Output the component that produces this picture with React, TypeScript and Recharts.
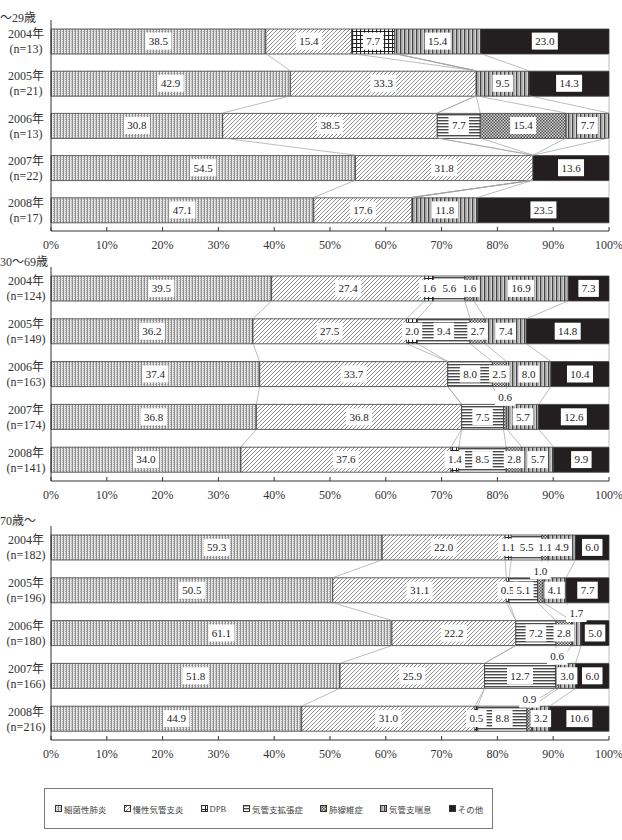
import React from 'react';
import { BarChart, Bar, XAxis, YAxis, ReferenceLine, ReferenceDot } from 'recharts';

const SERIF = "'Liberation Serif', 'Noto Sans CJK JP', serif";

const diseases = ['細菌性肺炎', '慢性気管支炎', 'DPB', '気管支拡張症', '肺線維症', '気管支喘息', 'その他'];
const years = ['2004年', '2005年', '2006年', '2007年', '2008年'];
const xTicks = [0, 0.1, 0.2, 0.3, 0.4, 0.5, 0.6, 0.7, 0.8, 0.9, 1];

// ～29歳: one row per year, columns follow `diseases`
const youngN = [13, 21, 13, 22, 17];
const youngRates = [
  [38.5, 15.4, 7.7, 0, 0, 15.4, 23.0],
  [42.9, 33.3, 0, 0, 0, 9.5, 14.3],
  [30.8, 38.5, 0, 7.7, 15.4, 7.7, 0],
  [54.5, 31.8, 0, 0, 0, 0, 13.6],
  [47.1, 17.6, 0, 0, 0, 11.8, 23.5],
];

// 30～69歳
const middleN = [124, 149, 163, 174, 141];
const middleRates = [
  [39.5, 27.4, 1.6, 5.6, 1.6, 16.9, 7.3],
  [36.2, 27.5, 2.0, 9.4, 2.7, 7.4, 14.8],
  [37.4, 33.7, 0, 8.0, 2.5, 8.0, 10.4],
  [36.8, 36.8, 0, 7.5, 0.6, 5.7, 12.6],
  [34.0, 37.6, 1.4, 8.5, 2.8, 5.7, 9.9],
];

// 70歳～
const elderN = [182, 196, 180, 166, 216];
const elderRates = [
  [59.3, 22.0, 1.1, 5.5, 1.1, 4.9, 6.0],
  [50.5, 31.1, 0.5, 5.1, 1.0, 4.1, 7.7],
  [61.1, 22.2, 0, 7.2, 2.8, 1.7, 5.0],
  [51.8, 25.9, 0, 12.7, 0.6, 3.0, 6.0],
  [44.9, 31.0, 0.5, 8.8, 0.9, 3.2, 10.6],
];

// [year row, disease column] of small values whose label sits above the bar
const middleLifted = [[3, 4]];
const elderLifted = [[1, 4], [2, 5], [3, 4], [4, 4]];

const BAR = 25;
const fills = diseases.map((_, k) => (k === 6 ? '#231f20' : `url(#pat${k})`));

function Patterns() {
  return (
    <svg width={0} height={0} style={{ position: 'absolute' }}>
      <defs>
        <pattern id="pat0" width={3} height={2} patternUnits="userSpaceOnUse">
          <rect width={3} height={2} fill="#e6e6e6" />
          <rect x={0} width={1} height={2} fill="#8f8f8f" />
          <rect x={2} width={1} height={1} fill="#ababab" />
        </pattern>
        <pattern id="pat1" width={4} height={4} patternUnits="userSpaceOnUse">
          <rect width={4} height={4} fill="#fff" />
          <path d="M-1,1 l2,-2 M0,4 l4,-4 M3,5 l2,-2" stroke="#707070" strokeWidth={0.8} />
        </pattern>
        <pattern id="pat2" width={4} height={4} patternUnits="userSpaceOnUse">
          <rect width={4} height={4} fill="#fff" />
          <path d="M0,0.5 H4 M0.5,0 V4" stroke="#222" strokeWidth={1.2} />
        </pattern>
        <pattern id="pat3" width={3} height={3} patternUnits="userSpaceOnUse">
          <rect width={3} height={3} fill="#fff" />
          <rect y={0} width={3} height={1.4} fill="#4a4a4a" />
        </pattern>
        <pattern id="pat4" width={3} height={3} patternUnits="userSpaceOnUse">
          <rect width={3} height={3} fill="#d8d8d8" />
          <rect x={0} y={0} width={1.5} height={1.5} fill="#4d4d4d" />
          <rect x={1.5} y={1.5} width={1.5} height={1.5} fill="#4d4d4d" />
        </pattern>
        <pattern id="pat5" width={4} height={4} patternUnits="userSpaceOnUse">
          <rect width={4} height={4} fill="#fff" />
          <rect x={0} width={1.5} height={4} fill="#444" />
          <rect x={2.5} width={0.8} height={4} fill="#666" />
        </pattern>
      </defs>
    </svg>
  );
}

function valueLabel(value: number, lift: number) {
  return (props: any) => {
    const { cx, cy } = props;
    const text = value.toFixed(1);
    const w = text.length * 5.5 + 4;
    const h = 17;
    const y = cy - lift;
    return (
      <g>
        <rect x={cx - w / 2} y={y - h / 2} width={w} height={h} fill="#fff" />
        <text x={cx} y={y} dy="0.35em" textAnchor="middle" fontSize={11} fontFamily={SERIF} fill="#222">
          {text}
        </text>
      </g>
    );
  };
}

// series line from the bottom of one bar to the top of the next
function seriesLine(props: any) {
  const { x1, y1, x2, y2 } = props;
  return <line x1={x1} y1={y1 + BAR / 2} x2={x2} y2={y2 - BAR / 2} stroke="#a0a0a0" strokeWidth={0.7} />;
}

interface PanelProps {
  title: string;
  titleX: number;
  titleTop: number;
  rates: number[][];
  counts: number[];
  lifted: number[][];
  plotTop: number;
  plotHeight: number;
}

function AgePanel({ title, titleX, titleTop, rates, counts, lifted, plotTop, plotHeight }: PanelProps) {
  const data = years.map((year, i) => {
    const row: Record<string, any> = { year };
    rates[i].forEach((v, k) => {
      row[`s${k}`] = v;
    });
    return row;
  });
  const totals = rates.map((r) => r.reduce((a, b) => a + b, 0));
  const ends = rates.map((r, i) => {
    let s = 0;
    return r.map((v) => (s += v) / totals[i]);
  });

  const renderYear = (p: any) => {
    const idx = years.indexOf(p.payload.value);
    const cx = 26;
    return (
      <text x={cx} y={p.y} textAnchor="middle" fontSize={12} fontFamily={SERIF} fill="#333">
        <tspan x={cx} dy={-3}>{p.payload.value}</tspan>
        <tspan x={cx} dy={15}>(n={counts[idx]})</tspan>
      </text>
    );
  };

  return (
    <>
      <div
        style={{
          position: 'absolute',
          left: titleX,
          top: titleTop,
          fontFamily: SERIF,
          fontSize: 12,
          color: '#333',
          lineHeight: '14px',
          whiteSpace: 'nowrap',
        }}
      >
        {title}
      </div>
      <div style={{ position: 'absolute', left: 0, top: plotTop - 5 }}>
        <BarChart
          width={622}
          height={plotHeight + 33}
          data={data}
          layout="vertical"
          stackOffset="expand"
          barSize={BAR}
          margin={{ top: 5, right: 13, bottom: 0, left: 0 }}
        >
          <XAxis
            type="number"
            domain={[0, 1]}
            ticks={xTicks}
            interval={0}
            tickFormatter={(v: number) => `${Math.round(v * 100)}%`}
            tick={{ fontSize: 12, fill: '#333', fontFamily: SERIF }}
            tickSize={-4}
            tickMargin={13}
            height={28}
            axisLine={{ stroke: '#333' }}
            tickLine={{ stroke: '#333' }}
          />
          <YAxis
            type="category"
            dataKey="year"
            width={51}
            tickLine={false}
            axisLine={{ stroke: '#333' }}
            tick={renderYear}
            interval={0}
          />
          {diseases.map((name, k) => (
            <Bar
              key={name}
              name={name}
              dataKey={`s${k}`}
              stackId="a"
              fill={fills[k]}
              stroke="#3a3a3a"
              strokeWidth={0.8}
              isAnimationActive={false}
            />
          ))}
          {years.slice(0, -1).map((year, i) =>
            diseases.map((_, k) => (
              <ReferenceLine
                key={`line-${i}-${k}`}
                segment={[
                  { x: ends[i][k], y: year },
                  { x: ends[i + 1][k], y: years[i + 1] },
                ]}
                position="middle"
                ifOverflow="visible"
                shape={seriesLine}
              />
            ))
          )}
          {years.map((year, i) =>
            rates[i].map((v, k) => {
              if (!v) return null;
              const mid = ends[i][k] - v / totals[i] / 2;
              const up = lifted.some(([r, c]) => r === i && c === k);
              return (
                <ReferenceDot
                  key={`label-${i}-${k}`}
                  x={mid}
                  y={year}
                  r={0}
                  ifOverflow="visible"
                  shape={valueLabel(v, up ? BAR / 2 + 7 : 0)}
                />
              );
            })
          )}
        </BarChart>
      </div>
    </>
  );
}

function LegendBox() {
  return (
    <div
      style={{
        position: 'absolute',
        left: 44,
        top: 788,
        width: 449,
        height: 41,
        border: '1px solid #7a7a7a',
        display: 'flex',
        alignItems: 'center',
        gap: 17,
        paddingLeft: 10,
        boxSizing: 'border-box',
        fontFamily: "'Noto Sans CJK JP', sans-serif",
        fontSize: 8.5,
        color: '#444',
      }}
    >
      {diseases.map((name, k) => (
        <div key={name} style={{ display: 'flex', alignItems: 'center', gap: 2, whiteSpace: 'nowrap' }}>
          <svg width={7} height={7}>
            <rect x={0.5} y={0.5} width={6} height={6} fill={fills[k]} stroke="#333" strokeWidth={1} />
          </svg>
          <span style={{ fontFamily: k === 2 ? SERIF : undefined }}>{name}</span>
        </div>
      ))}
    </div>
  );
}

export default function App() {
  return (
    <div
      style={{
        position: 'absolute',
        left: 0,
        top: 0,
        width: 622,
        height: 840,
        background: '#fff',
        overflow: 'hidden',
      }}
    >
      <Patterns />
      <AgePanel title="～29歳" titleX={0} titleTop={11} rates={youngRates} counts={youngN} lifted={[]} plotTop={19.5} plotHeight={211} />
      <AgePanel title="30～69歳" titleX={0} titleTop={255} rates={middleRates} counts={middleN} lifted={middleLifted} plotTop={267} plotHeight={214} />
      <AgePanel title="70歳～" titleX={0} titleTop={514} rates={elderRates} counts={elderN} lifted={elderLifted} plotTop={526} plotHeight={214} />
      <LegendBox />
    </div>
  );
}
